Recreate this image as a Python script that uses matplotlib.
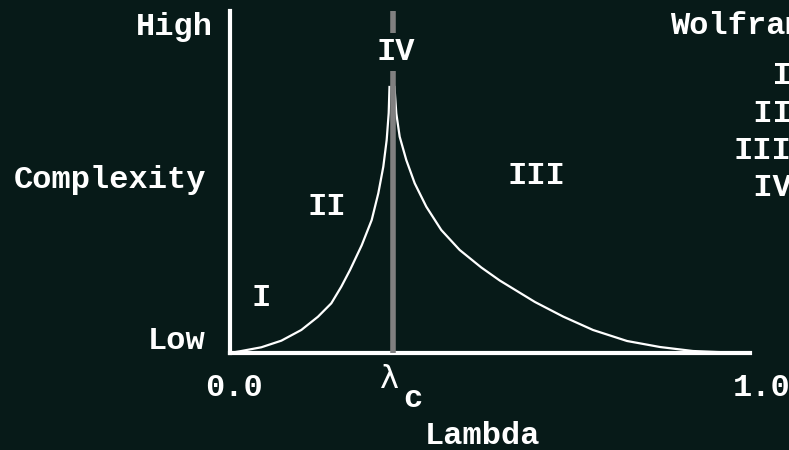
import matplotlib.pyplot as plt

BG = '#071a18'
FONT = 'Liberation Mono'
W, H = 789, 450

lambda_c = 0.3125

# complexity vs. lambda: rising branch up to the critical point, then the decay
rise_x = [0.0, 0.0217, 0.0602, 0.0987, 0.1371, 0.1692, 0.1948, 0.2140, 0.2308,
          0.2533, 0.2725, 0.2852, 0.2948, 0.3013, 0.3052, 0.3067]
rise_y = [0.0, 0.0058, 0.0167, 0.0360, 0.0673, 0.1061, 0.1453, 0.1939, 0.2427,
          0.3150, 0.3889, 0.4670, 0.5447, 0.6228, 0.7018, 0.7778]
fall_x = [0.3163, 0.3198, 0.3263, 0.3390, 0.3552, 0.3775, 0.4063, 0.4417, 0.4833,
          0.5187, 0.5865, 0.6404, 0.6981, 0.7635, 0.8269, 0.8904, 0.9365, 1.0]
fall_y = [0.7778, 0.7009, 0.6325, 0.5643, 0.4962, 0.4278, 0.3596, 0.3012, 0.2500,
          0.2120, 0.1491, 0.1067, 0.0673, 0.0351, 0.0175, 0.0058, 0.0029, 0.0]

# region labels inside the plot (data coords)
regions = ['I', 'II', 'III', 'IV']
region_x = [0.06, 0.187, 0.59, 0.319]
region_y = [0.161, 0.427, 0.518, 0.880]

legend_title = 'Wolfram Classes'
legend_rows = ['  I', ' II', 'III', ' IV']


def px(x, y):
    """pixel position -> figure fraction"""
    return x / W, 1 - y / H


fig = plt.figure(figsize=(W / 100, H / 100), dpi=100, facecolor=BG)
ax = fig.add_axes([230 / W, 1 - 353 / H, 520 / W, 342 / H])
ax.set_facecolor(BG)

ax.plot(rise_x, rise_y, color='white', lw=1.6, zorder=2)
ax.plot(fall_x, fall_y, color='white', lw=1.6, zorder=2)
ax.axvline(lambda_c, color='#808080', lw=4, zorder=3)

ax.set_xlim(0, 1)
ax.set_ylim(0, 1)
ax.set_xticks([])
ax.set_yticks([])
for side in ['top', 'right']:
    ax.spines[side].set_visible(False)
for side in ['left', 'bottom']:
    ax.spines[side].set_color('white')
    ax.spines[side].set_linewidth(3)

txt = dict(color='white', fontfamily=FONT, fontweight='bold', fontsize=23)

for lab, x, y in zip(regions, region_x, region_y):
    kw = dict(ha='center', va='center', zorder=4, **txt)
    if lab == 'IV':
        kw['bbox'] = dict(facecolor=BG, edgecolor='none', pad=3)
    ax.text(x, y, lab, **kw)

# axis annotations
fig.text(*px(213, 27), 'High', ha='right', va='center', **txt)
fig.text(*px(206, 341), 'Low', ha='right', va='center', **txt)
fig.text(*px(206, 180), 'Complexity', ha='right', va='center', **txt)
fig.text(*px(234, 388), '0.0', ha='center', va='center', **txt)
fig.text(*px(762, 388), '1.0', ha='center', va='center', **txt)
fig.text(*px(482, 436), 'Lambda', ha='center', va='center', **txt)
fig.text(*px(389, 379), 'λ', ha='center', va='center', color='white',
         fontfamily='DejaVu Sans', fontsize=23)
fig.text(*px(413, 399), 'c', ha='center', va='center', **txt)

# class legend on the right
fig.text(*px(670, 26), legend_title, ha='left', va='center', **txt)
for i, row in enumerate(legend_rows):
    fig.text(*px(734, 76 + i * 37.5), row, ha='left', va='center', **txt)

fig.savefig('out.png', dpi=100, facecolor=BG)
